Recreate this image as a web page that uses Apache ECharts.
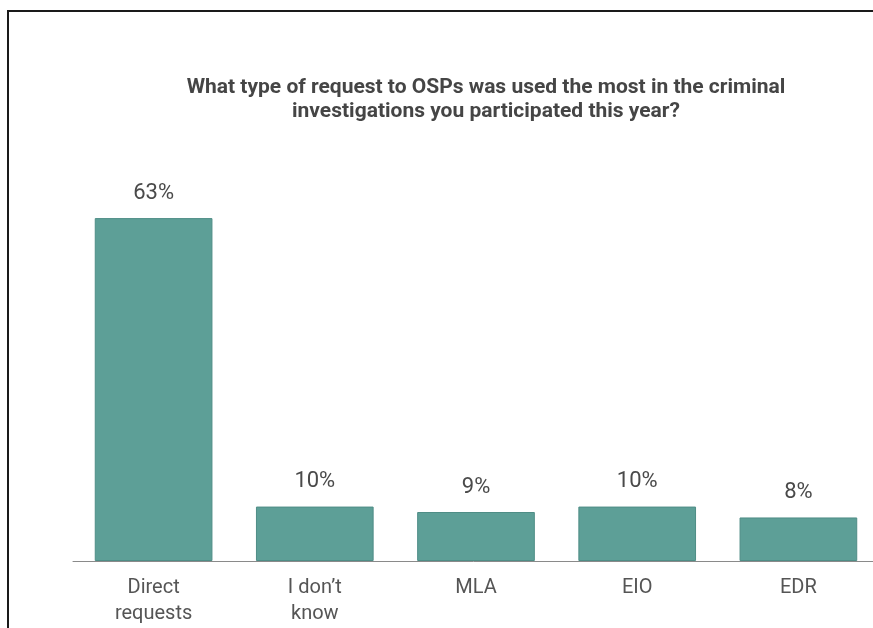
<!DOCTYPE html>
<html>
<head>
<meta charset="utf-8">
<title>Requests to OSPs</title>
<script src="https://cdn.jsdelivr.net/npm/echarts@6/dist/echarts.min.js"></script>
<style>
  html, body { margin: 0; padding: 0; background: #fff; overflow: hidden; }
  #chart { width: 873px; height: 628px; }
</style>
</head>
<body>
<div id="chart"></div>
<script>
// Survey answers: share of respondents per request type
const categories = ['Direct\nrequests', 'I don\u2019t\nknow', 'MLA', 'EIO', 'EDR'];
const shares = [63, 10, 9, 10, 8];
const titleLines = [
  'What type of request to OSPs was used the most in the criminal',
  'investigations you participated this year?'
];

const chart = echarts.init(document.getElementById('chart'));
chart.setOption({
  animation: false,
  backgroundColor: '#ffffff',
  title: {
    text: titleLines.join('\n'),
    left: 481,
    textAlign: 'center',
    top: 71,
    textStyle: {
      fontFamily: 'Roboto',
      fontWeight: 'bold',
      fontSize: 21,
      lineHeight: 24,
      color: '#454545'
    }
  },
  // dark frame along the top and left edges of the panel
  graphic: [
    { type: 'line', shape: { x1: 8, y1: 11, x2: 873, y2: 11 }, style: { stroke: '#1a1a1a', lineWidth: 2 }, silent: true },
    { type: 'line', shape: { x1: 8, y1: 10, x2: 8, y2: 628 }, style: { stroke: '#1a1a1a', lineWidth: 2 }, silent: true }
  ],
  grid: { left: 73, top: 180, width: 806, bottom: 67, outerBoundsMode: 'none', containLabel: false },
  xAxis: {
    type: 'category',
    data: categories,
    axisLine: { show: true, lineStyle: { color: '#8a8a8a', width: 1 } },
    axisTick: { show: false },
    axisLabel: {
      fontFamily: 'Roboto',
      fontSize: 20,
      lineHeight: 26,
      color: '#555555',
      margin: 14,
      interval: 0
    }
  },
  yAxis: {
    type: 'value',
    min: 0,
    max: 70,
    show: false,
    splitLine: { show: false }
  },
  series: [{
    type: 'bar',
    data: shares,
    barCategoryGap: '27%',
    itemStyle: { color: '#5d9f97', borderColor: '#4f8d86', borderWidth: 1 },
    label: {
      show: true,
      position: 'top',
      distance: 14,
      formatter: '{c}%',
      fontFamily: 'Roboto',
      fontSize: 22,
      color: '#4a4a4a'
    }
  }]
});
</script>
</body>
</html>
